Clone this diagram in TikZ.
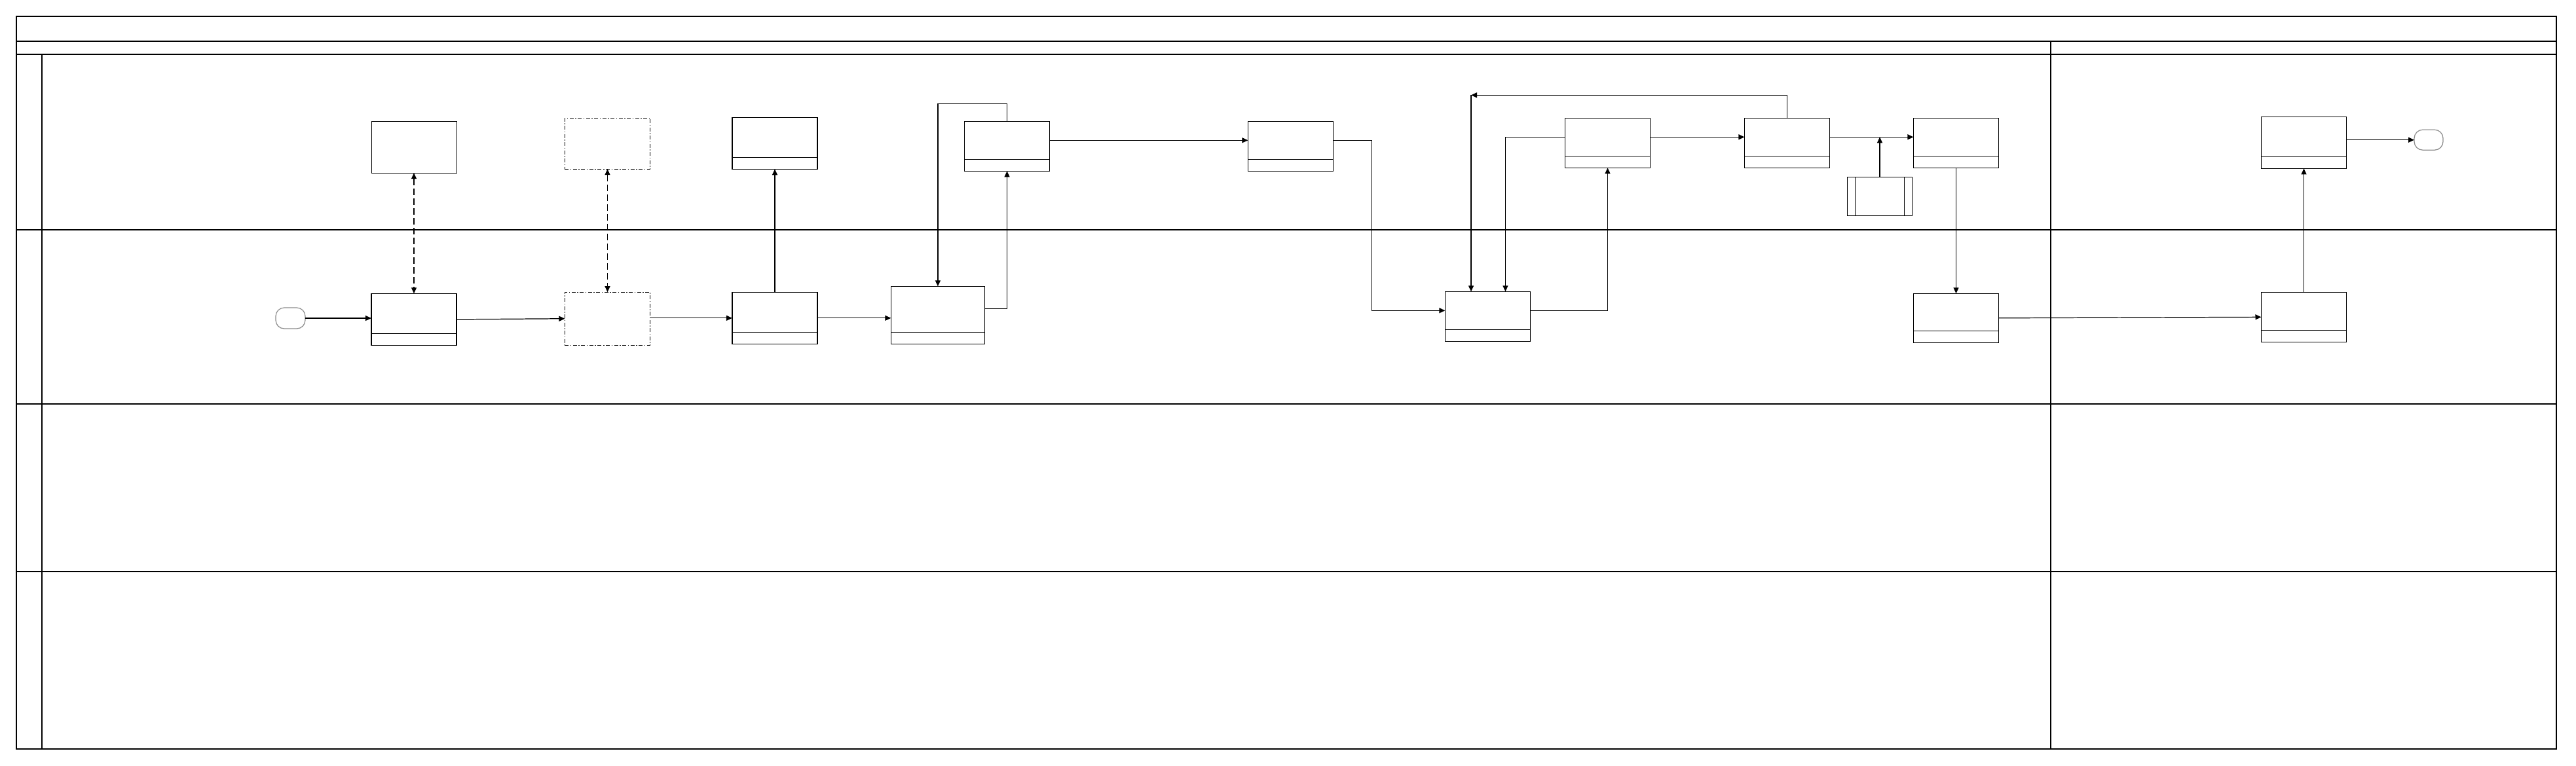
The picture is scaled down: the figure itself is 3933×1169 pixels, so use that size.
\documentclass[tikz,border=0pt]{standalone}
\usetikzlibrary{arrows.meta,calc}
\begin{document}
\begin{tikzpicture}[x=0.01cm,y=-0.01cm,
  every node/.style={inner sep=0pt,outer sep=0pt},
  frame/.style={line width=0.4pt,draw=black},
  box/.style={draw=black,line width=0.35pt,fill=white,rectangle,minimum width=1.3cm,minimum height=0.78cm},
  divider/.style={path picture={\draw[line width=0.35pt] ([yshift=0.18cm]path picture bounding box.south west) -- ([yshift=0.18cm]path picture bounding box.south east);}},
  dashdotbox/.style={dash pattern=on 0.06cm off 0.025cm on 0.015cm off 0.025cm},
  predef/.style={path picture={\draw[line width=0.35pt] ([xshift=0.12cm]path picture bounding box.south west) -- ([xshift=0.12cm]path picture bounding box.north west);
     \draw[line width=0.35pt] ([xshift=-0.12cm]path picture bounding box.south east) -- ([xshift=-0.12cm]path picture bounding box.north east);}},
  term/.style={draw=black!45,line width=0.35pt,fill=white,rectangle,rounded corners=0.13cm,minimum width=0.45cm,minimum height=0.32cm},
  arr/.style={line width=0.35pt,-{Triangle[length=0.09cm,width=0.08cm]}},
  darr/.style={line width=0.35pt,dash pattern=on 0.1cm off 0.05cm,{Triangle[length=0.09cm,width=0.08cm]}-{Triangle[length=0.09cm,width=0.08cm]}}
]
\useasboundingbox (0,0) rectangle (3933,1169);
% pool frame
\draw[frame] (25,25) rectangle (3903,1144);
\draw[frame] (25,63) -- (3903,63);
\draw[frame] (25,83) -- (3903,83);
\draw[frame] (3131,63) -- (3131,1144);
\draw[frame] (64,83) -- (64,1144);
\draw[frame] (25,351) -- (3903,351);
\draw[frame] (25,617) -- (3903,617);
\draw[frame] (25,873) -- (3903,873);

% nodes
\node[term] (T1) at (443.5,486) {};
\node[box,minimum height=0.79cm] (A) at (632.8,224.7) {};
\node[box,dashdotbox] (B) at (927.5,219.2) {};
\node[box,divider,minimum height=0.79cm] (C) at (632,487.8) {};
\node[box,dashdotbox,minimum height=0.81cm] (D) at (927.5,486.7) {};
\node[box,divider,minimum height=0.79cm] (E) at (1183,218.8) {};
\node[box,divider,minimum height=0.79cm] (G) at (1183,485.8) {};
\node[box,divider,minimum width=1.43cm,minimum height=0.88cm] (H) at (1431.9,481.3) {};
\node[box,divider,minimum height=0.76cm] (F) at (1537.5,223.3) {};
\node[box,divider,minimum height=0.76cm] (I) at (1970.4,223.3) {};
\node[box,divider,minimum height=0.76cm] (J) at (2271.4,483.3) {};
\node[box,divider,minimum height=0.76cm] (K) at (2454.5,218.3) {};
\node[box,divider,minimum height=0.76cm] (L) at (2728.5,218.3) {};
\node[box,divider,minimum height=0.76cm] (M) at (2986.5,218.3) {};
\node[box,predef,minimum width=0.99cm,minimum height=0.59cm] (N) at (2870,299.8) {};
\node[box,divider,minimum height=0.75cm] (O) at (2986.5,485.8) {};
\node[box,divider,minimum height=0.79cm] (Q) at (3517.5,217.8) {};
\node[box,divider,minimum height=0.76cm] (P) at (3517.5,484.3) {};
\node[term,minimum width=0.44cm,minimum height=0.31cm] (T2) at (3708,213.7) {};

\coordinate (X) at (2246,145.3);
\coordinate (LM) at ([yshift=0.09cm]L.east);

% connectors
\draw[arr] (T1.east) -- (T1.east -| C.west);
\draw[darr] (C.north |- A.south) -- (C.north);
\draw[darr] (D.north |- B.south) -- (D.north);
\draw[arr] (C.east) -- (D.west);
\draw[arr] (D.east |- G.west) -- (G.west);
\draw[arr] (G.north) -- (G.north |- E.south);
\draw[arr] (G.east) -- (G.east -| H.west);
\draw[arr] ([yshift=0.1cm]H.east) -| (F.south);
\draw[arr] (F.north) -- ++(0,-27) -| (H.north);
\draw[arr] ([yshift=0.09cm]F.east) -- ([yshift=0.09cm]I.west);
\draw[arr] ([yshift=0.09cm]I.east) -- ++(59,0) |- ([yshift=0.09cm]J.west);
\draw[arr] ([yshift=0.09cm]J.east) -| (K.south);
\draw[arr] ([yshift=0.09cm]K.west) -| ([xshift=0.27cm]J.north);
\draw[arr] ([yshift=0.09cm]K.east) -- ([yshift=0.09cm]L.west);
\draw[arr] (L.north) |- (X);
\draw[arr] (X) -- (X |- J.north);
\draw[arr] (LM) -- ([yshift=0.09cm]M.west);
\draw[arr] (N.north) -- (N.north |- LM);
\draw[arr] (M.south) -- (O.north);
\draw[arr] (O.east) -- (P.west);
\draw[arr] (P.north) -- (Q.south);
\draw[arr] (Q.east |- T2.west) -- (T2.west);
\end{tikzpicture}
\end{document}
